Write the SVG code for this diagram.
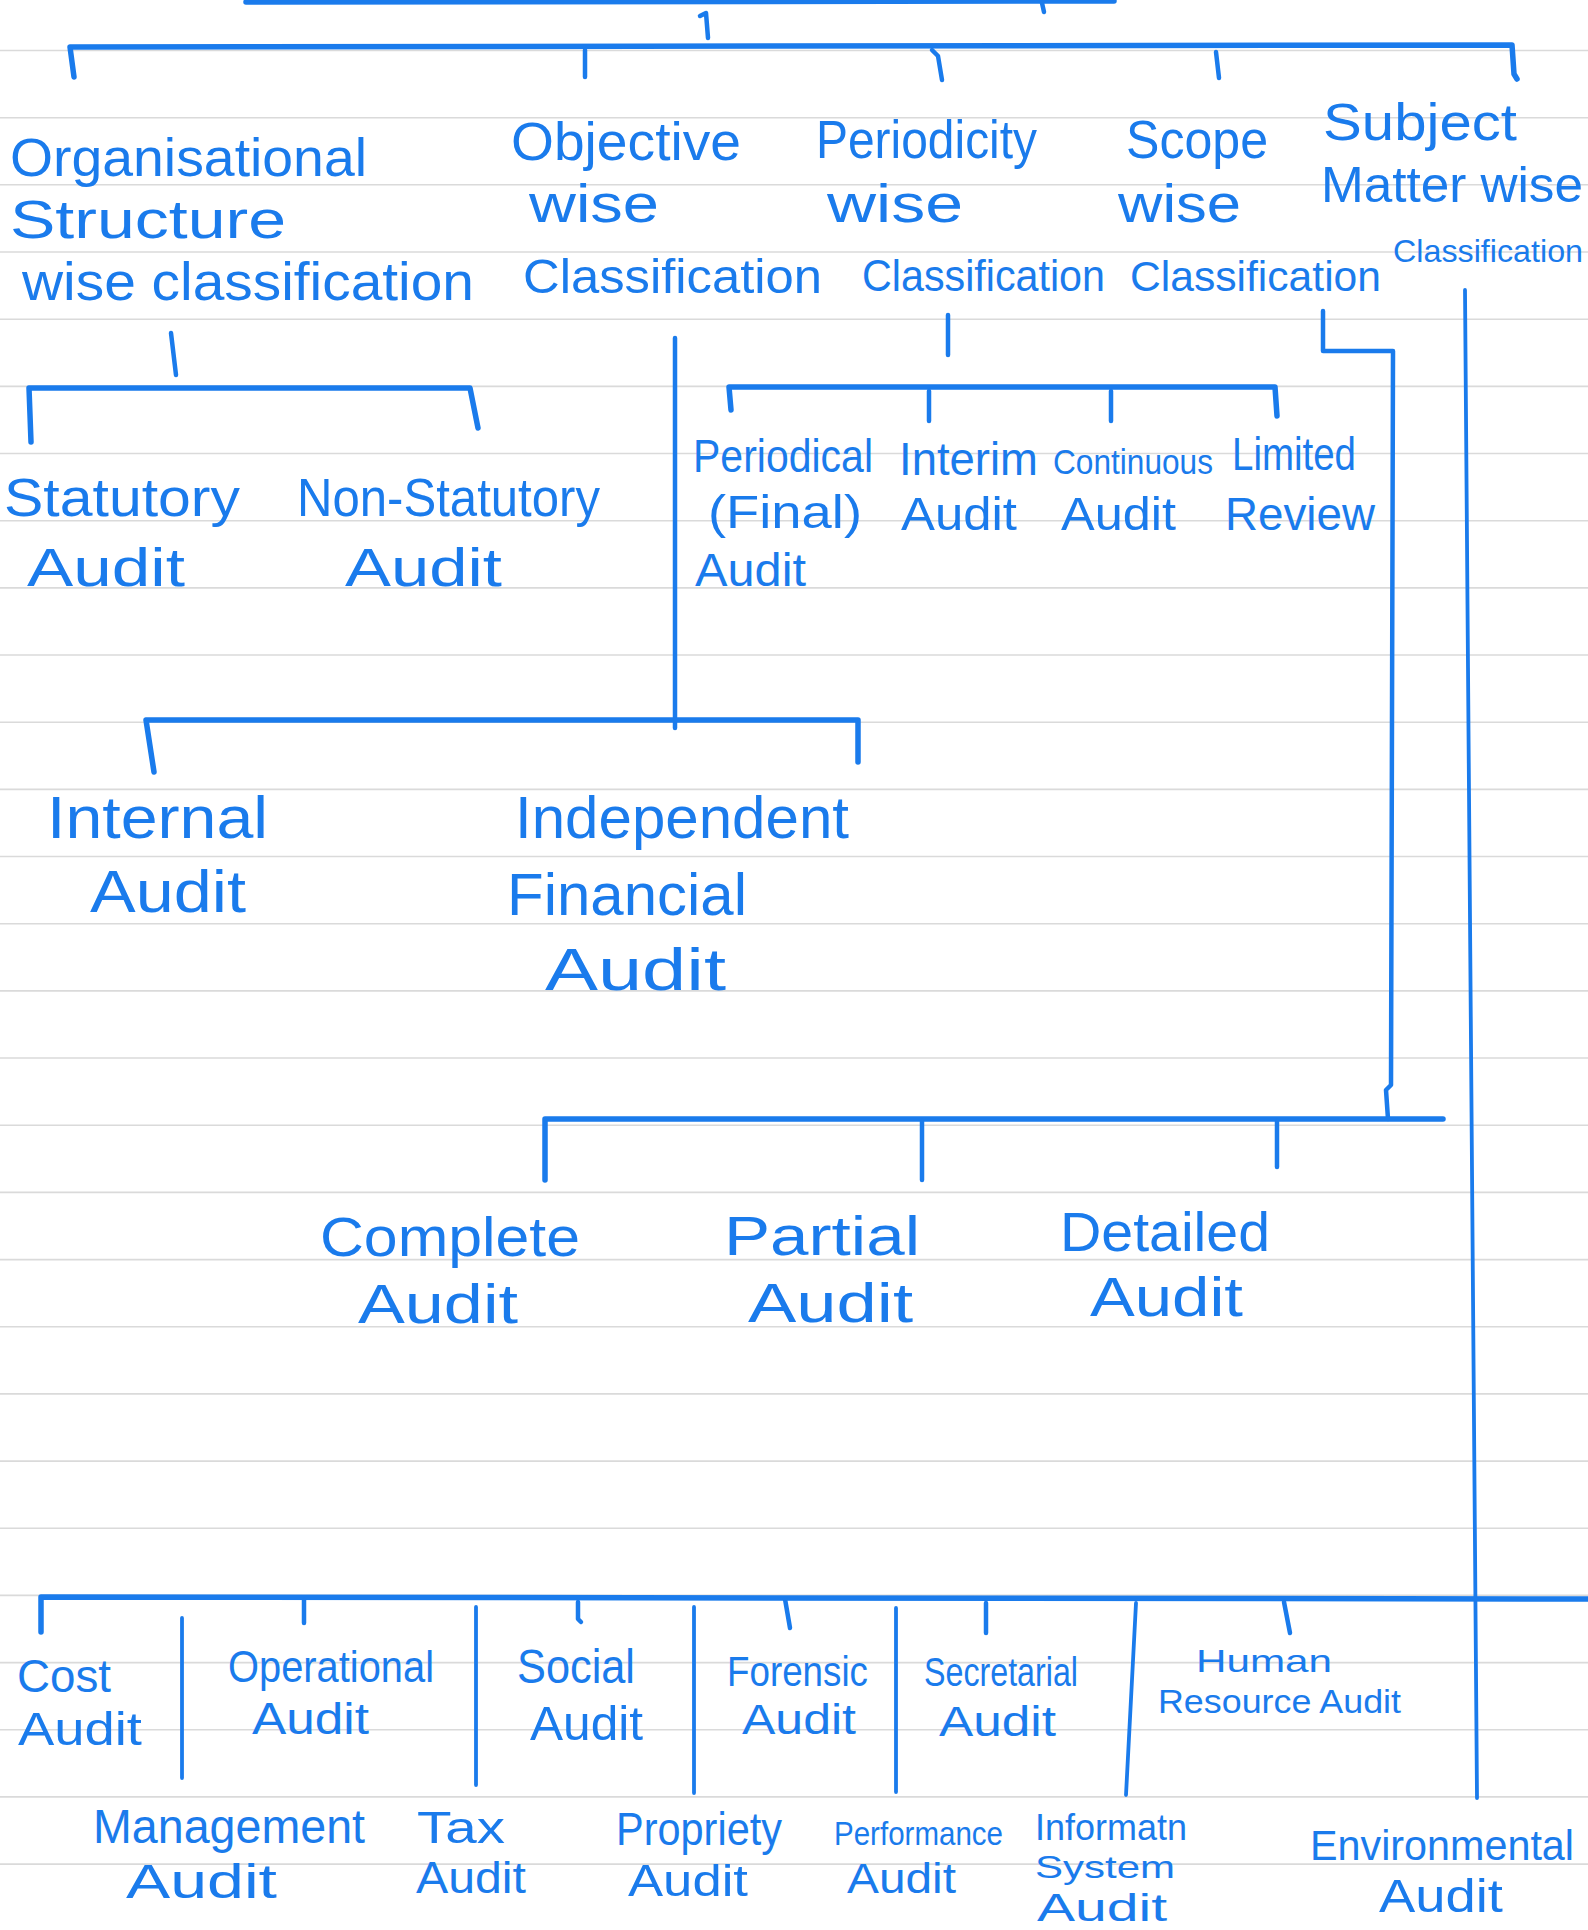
<svg xmlns="http://www.w3.org/2000/svg" width="1588" height="1930" viewBox="0 0 1588 1930">
<style>
.rule{stroke:#dadada;stroke-width:1.6}
.c{fill:none;stroke:#1a7bec;stroke-width:4.5;stroke-linecap:round;stroke-linejoin:round}
.bar{stroke-width:5.5}
.sep{stroke-width:3.8}
text{font-family:"Liberation Sans",Arial,sans-serif;fill:#1a7bec}
.h1{font-size:54px}
.h2{font-size:54px}
.h3{font-size:46px}
.h4{font-size:60px}
.h5{font-size:56px}
</style>
<rect width="1588" height="1930" fill="#ffffff"/>
<g id="ruled-lines">
<path class="rule" d="M0 50.5H1588M0 117.7H1588M0 184.8H1588M0 252H1588M0 319.2H1588M0 386.4H1588M0 453.5H1588M0 520.7H1588M0 587.9H1588M0 655H1588M0 722.2H1588M0 789.4H1588M0 856.5H1588M0 923.7H1588M0 990.9H1588M0 1058H1588M0 1125.2H1588M0 1192.4H1588M0 1259.6H1588M0 1326.7H1588M0 1393.9H1588M0 1461.1H1588M0 1528.2H1588M0 1595.4H1588M0 1662.6H1588M0 1729.7H1588M0 1796.9H1588M0 1864.1H1588"/>
</g>
<g id="connectors">
<path class="c bar" d="M246 2L1114 1"/>
<path class="c" d="M1042 3L1044 12"/>
<path class="c" d="M700 16L706 13L708 38"/>
<path class="c bar" d="M74 77L70 47L1512 45L1514 74L1517 79"/>
<path class="c" d="M585 50L585 77"/>
<path class="c" d="M932 50L938 56L942 80"/>
<path class="c" d="M1216 52L1219 78"/>
<path class="c" d="M171 333L176 375"/>
<path class="c bar" d="M31 442L29 388L470 388L478 428"/>
<path class="c" d="M675 338L675 728"/>
<path class="c bar" d="M154 772L146 720L858 720L858 762"/>
<path class="c" d="M948 315L948 355"/>
<path class="c bar" d="M731 410L729 387L1275 387L1277 416"/>
<path class="c" d="M929 391L929 421"/>
<path class="c" d="M1111 391L1111 421"/>
<path class="c" d="M1323 311L1323 351L1393 351L1391 1085L1386 1090L1388 1119"/>
<path class="c bar" d="M545 1180L545 1119L1443 1119"/>
<path class="c" d="M922 1121L922 1180"/>
<path class="c" d="M1277 1121L1277 1167"/>
<path class="c sep" d="M1465 290L1477 1798"/>
<path class="c bar" d="M41 1632L41 1597L1588 1599"/>
<path class="c sep" d="M182 1618L182 1778"/>
<path class="c sep" d="M476 1607L476 1785"/>
<path class="c sep" d="M694 1607L694 1793"/>
<path class="c sep" d="M896 1608L896 1792"/>
<path class="c sep" d="M1136 1603L1126 1795"/>
<path class="c" d="M304 1600L304 1623"/>
<path class="c" d="M578 1602L578 1619L581 1622"/>
<path class="c" d="M785 1599L790 1628"/>
<path class="c" d="M986 1603L986 1633"/>
<path class="c" d="M1284 1602L1290 1633"/>
</g>
<g id="n-organisational">
<text class="h1" x="10" y="176" textLength="357" lengthAdjust="spacingAndGlyphs">Organisational</text>
<text class="h1" x="10" y="238" textLength="276" lengthAdjust="spacingAndGlyphs">Structure</text>
<text class="h1" x="22" y="300" textLength="452" lengthAdjust="spacingAndGlyphs">wise classification</text>
</g>
<g id="n-objective">
<text class="h1" x="511" y="160" textLength="230" lengthAdjust="spacingAndGlyphs">Objective</text>
<text class="h1" x="529" y="222" textLength="130" lengthAdjust="spacingAndGlyphs">wise</text>
<text x="523" y="293" font-size="48" textLength="299" lengthAdjust="spacingAndGlyphs">Classification</text>
</g>
<g id="n-periodicity">
<text class="h1" x="816" y="158" textLength="221" lengthAdjust="spacingAndGlyphs">Periodicity</text>
<text class="h1" x="827" y="222" textLength="136" lengthAdjust="spacingAndGlyphs">wise</text>
<text x="862" y="291" font-size="44" textLength="243" lengthAdjust="spacingAndGlyphs">Classification</text>
</g>
<g id="n-scope">
<text class="h1" x="1126" y="158" textLength="142" lengthAdjust="spacingAndGlyphs">Scope</text>
<text class="h1" x="1118" y="222" textLength="123" lengthAdjust="spacingAndGlyphs">wise</text>
<text x="1130" y="291" font-size="42" textLength="251" lengthAdjust="spacingAndGlyphs">Classification</text>
</g>
<g id="n-subject">
<text x="1323" y="140" font-size="52" textLength="194" lengthAdjust="spacingAndGlyphs">Subject</text>
<text x="1321" y="202" font-size="50" textLength="262" lengthAdjust="spacingAndGlyphs">Matter wise</text>
<text x="1393" y="262" font-size="32" textLength="190" lengthAdjust="spacingAndGlyphs">Classification</text>
</g>
<g id="n-statutory">
<text class="h2" x="4" y="516" textLength="236" lengthAdjust="spacingAndGlyphs">Statutory</text>
<text class="h2" x="27" y="586" textLength="158" lengthAdjust="spacingAndGlyphs">Audit</text>
</g>
<g id="n-non-statutory">
<text class="h2" x="297" y="516" textLength="303" lengthAdjust="spacingAndGlyphs">Non-Statutory</text>
<text class="h2" x="345" y="586" textLength="157" lengthAdjust="spacingAndGlyphs">Audit</text>
</g>
<g id="n-periodical">
<text class="h3" x="693" y="472" textLength="180" lengthAdjust="spacingAndGlyphs">Periodical</text>
<text class="h3" x="708" y="528" textLength="154" lengthAdjust="spacingAndGlyphs">(Final)</text>
<text class="h3" x="695" y="586" textLength="111" lengthAdjust="spacingAndGlyphs">Audit</text>
</g>
<g id="n-interim">
<text class="h3" x="899" y="475" textLength="139" lengthAdjust="spacingAndGlyphs">Interim</text>
<text class="h3" x="901" y="530" textLength="116" lengthAdjust="spacingAndGlyphs">Audit</text>
</g>
<g id="n-continuous">
<text x="1053" y="474" font-size="35" textLength="160" lengthAdjust="spacingAndGlyphs">Continuous</text>
<text class="h3" x="1061" y="530" textLength="115" lengthAdjust="spacingAndGlyphs">Audit</text>
</g>
<g id="n-limited">
<text class="h3" x="1232" y="470" textLength="124" lengthAdjust="spacingAndGlyphs">Limited</text>
<text class="h3" x="1225" y="530" textLength="150" lengthAdjust="spacingAndGlyphs">Review</text>
</g>
<g id="n-internal">
<text class="h4" x="47" y="838" textLength="221" lengthAdjust="spacingAndGlyphs">Internal</text>
<text class="h4" x="90" y="912" textLength="156" lengthAdjust="spacingAndGlyphs">Audit</text>
</g>
<g id="n-independent">
<text class="h4" x="515" y="838" textLength="334" lengthAdjust="spacingAndGlyphs">Independent</text>
<text class="h4" x="507" y="915" textLength="240" lengthAdjust="spacingAndGlyphs">Financial</text>
<text class="h4" x="545" y="990" textLength="181" lengthAdjust="spacingAndGlyphs">Audit</text>
</g>
<g id="n-complete">
<text class="h5" x="320" y="1256" textLength="260" lengthAdjust="spacingAndGlyphs">Complete</text>
<text class="h5" x="358" y="1323" textLength="160" lengthAdjust="spacingAndGlyphs">Audit</text>
</g>
<g id="n-partial">
<text class="h5" x="724" y="1255" textLength="196" lengthAdjust="spacingAndGlyphs">Partial</text>
<text class="h5" x="748" y="1322" textLength="165" lengthAdjust="spacingAndGlyphs">Audit</text>
</g>
<g id="n-detailed">
<text class="h5" x="1060" y="1251" textLength="210" lengthAdjust="spacingAndGlyphs">Detailed</text>
<text class="h5" x="1090" y="1316" textLength="153" lengthAdjust="spacingAndGlyphs">Audit</text>
</g>
<g id="n-cost">
<text x="17" y="1692" font-size="46" textLength="94" lengthAdjust="spacingAndGlyphs">Cost</text>
<text x="18" y="1745" font-size="46" textLength="124" lengthAdjust="spacingAndGlyphs">Audit</text>
</g>
<g id="n-operational">
<text x="228" y="1682" font-size="44" textLength="206" lengthAdjust="spacingAndGlyphs">Operational</text>
<text x="252" y="1734" font-size="44" textLength="117" lengthAdjust="spacingAndGlyphs">Audit</text>
</g>
<g id="n-social">
<text x="517" y="1683" font-size="48" textLength="118" lengthAdjust="spacingAndGlyphs">Social</text>
<text x="530" y="1740" font-size="48" textLength="113" lengthAdjust="spacingAndGlyphs">Audit</text>
</g>
<g id="n-forensic">
<text x="727" y="1686" font-size="42" textLength="141" lengthAdjust="spacingAndGlyphs">Forensic</text>
<text x="742" y="1734" font-size="42" textLength="114" lengthAdjust="spacingAndGlyphs">Audit</text>
</g>
<g id="n-secretarial">
<text x="924" y="1686" font-size="40" textLength="154" lengthAdjust="spacingAndGlyphs">Secretarial</text>
<text x="939" y="1736" font-size="42" textLength="117" lengthAdjust="spacingAndGlyphs">Audit</text>
</g>
<g id="n-human-resource">
<text x="1196" y="1672" font-size="32" textLength="136" lengthAdjust="spacingAndGlyphs">Human</text>
<text x="1158" y="1713" font-size="34" textLength="243" lengthAdjust="spacingAndGlyphs">Resource Audit</text>
</g>
<g id="n-management">
<text x="93" y="1843" font-size="48" textLength="272" lengthAdjust="spacingAndGlyphs">Management</text>
<text x="126" y="1898" font-size="48" textLength="151" lengthAdjust="spacingAndGlyphs">Audit</text>
</g>
<g id="n-tax">
<text x="417" y="1843" font-size="44" textLength="88" lengthAdjust="spacingAndGlyphs">Tax</text>
<text x="416" y="1893" font-size="44" textLength="110" lengthAdjust="spacingAndGlyphs">Audit</text>
</g>
<g id="n-propriety">
<text x="616" y="1845" font-size="46" textLength="166" lengthAdjust="spacingAndGlyphs">Propriety</text>
<text x="628" y="1896" font-size="44" textLength="120" lengthAdjust="spacingAndGlyphs">Audit</text>
</g>
<g id="n-performance">
<text x="834" y="1845" font-size="34" textLength="169" lengthAdjust="spacingAndGlyphs">Performance</text>
<text x="847" y="1893" font-size="42" textLength="109" lengthAdjust="spacingAndGlyphs">Audit</text>
</g>
<g id="n-information-system">
<text x="1035" y="1840" font-size="36" textLength="152" lengthAdjust="spacingAndGlyphs">Informatn</text>
<text x="1035" y="1878" font-size="32" textLength="140" lengthAdjust="spacingAndGlyphs">System</text>
<text x="1037" y="1921" font-size="38" textLength="130" lengthAdjust="spacingAndGlyphs">Audit</text>
</g>
<g id="n-environmental">
<text x="1310" y="1860" font-size="42" textLength="264" lengthAdjust="spacingAndGlyphs">Environmental</text>
<text x="1379" y="1912" font-size="46" textLength="124" lengthAdjust="spacingAndGlyphs">Audit</text>
</g>
</svg>
